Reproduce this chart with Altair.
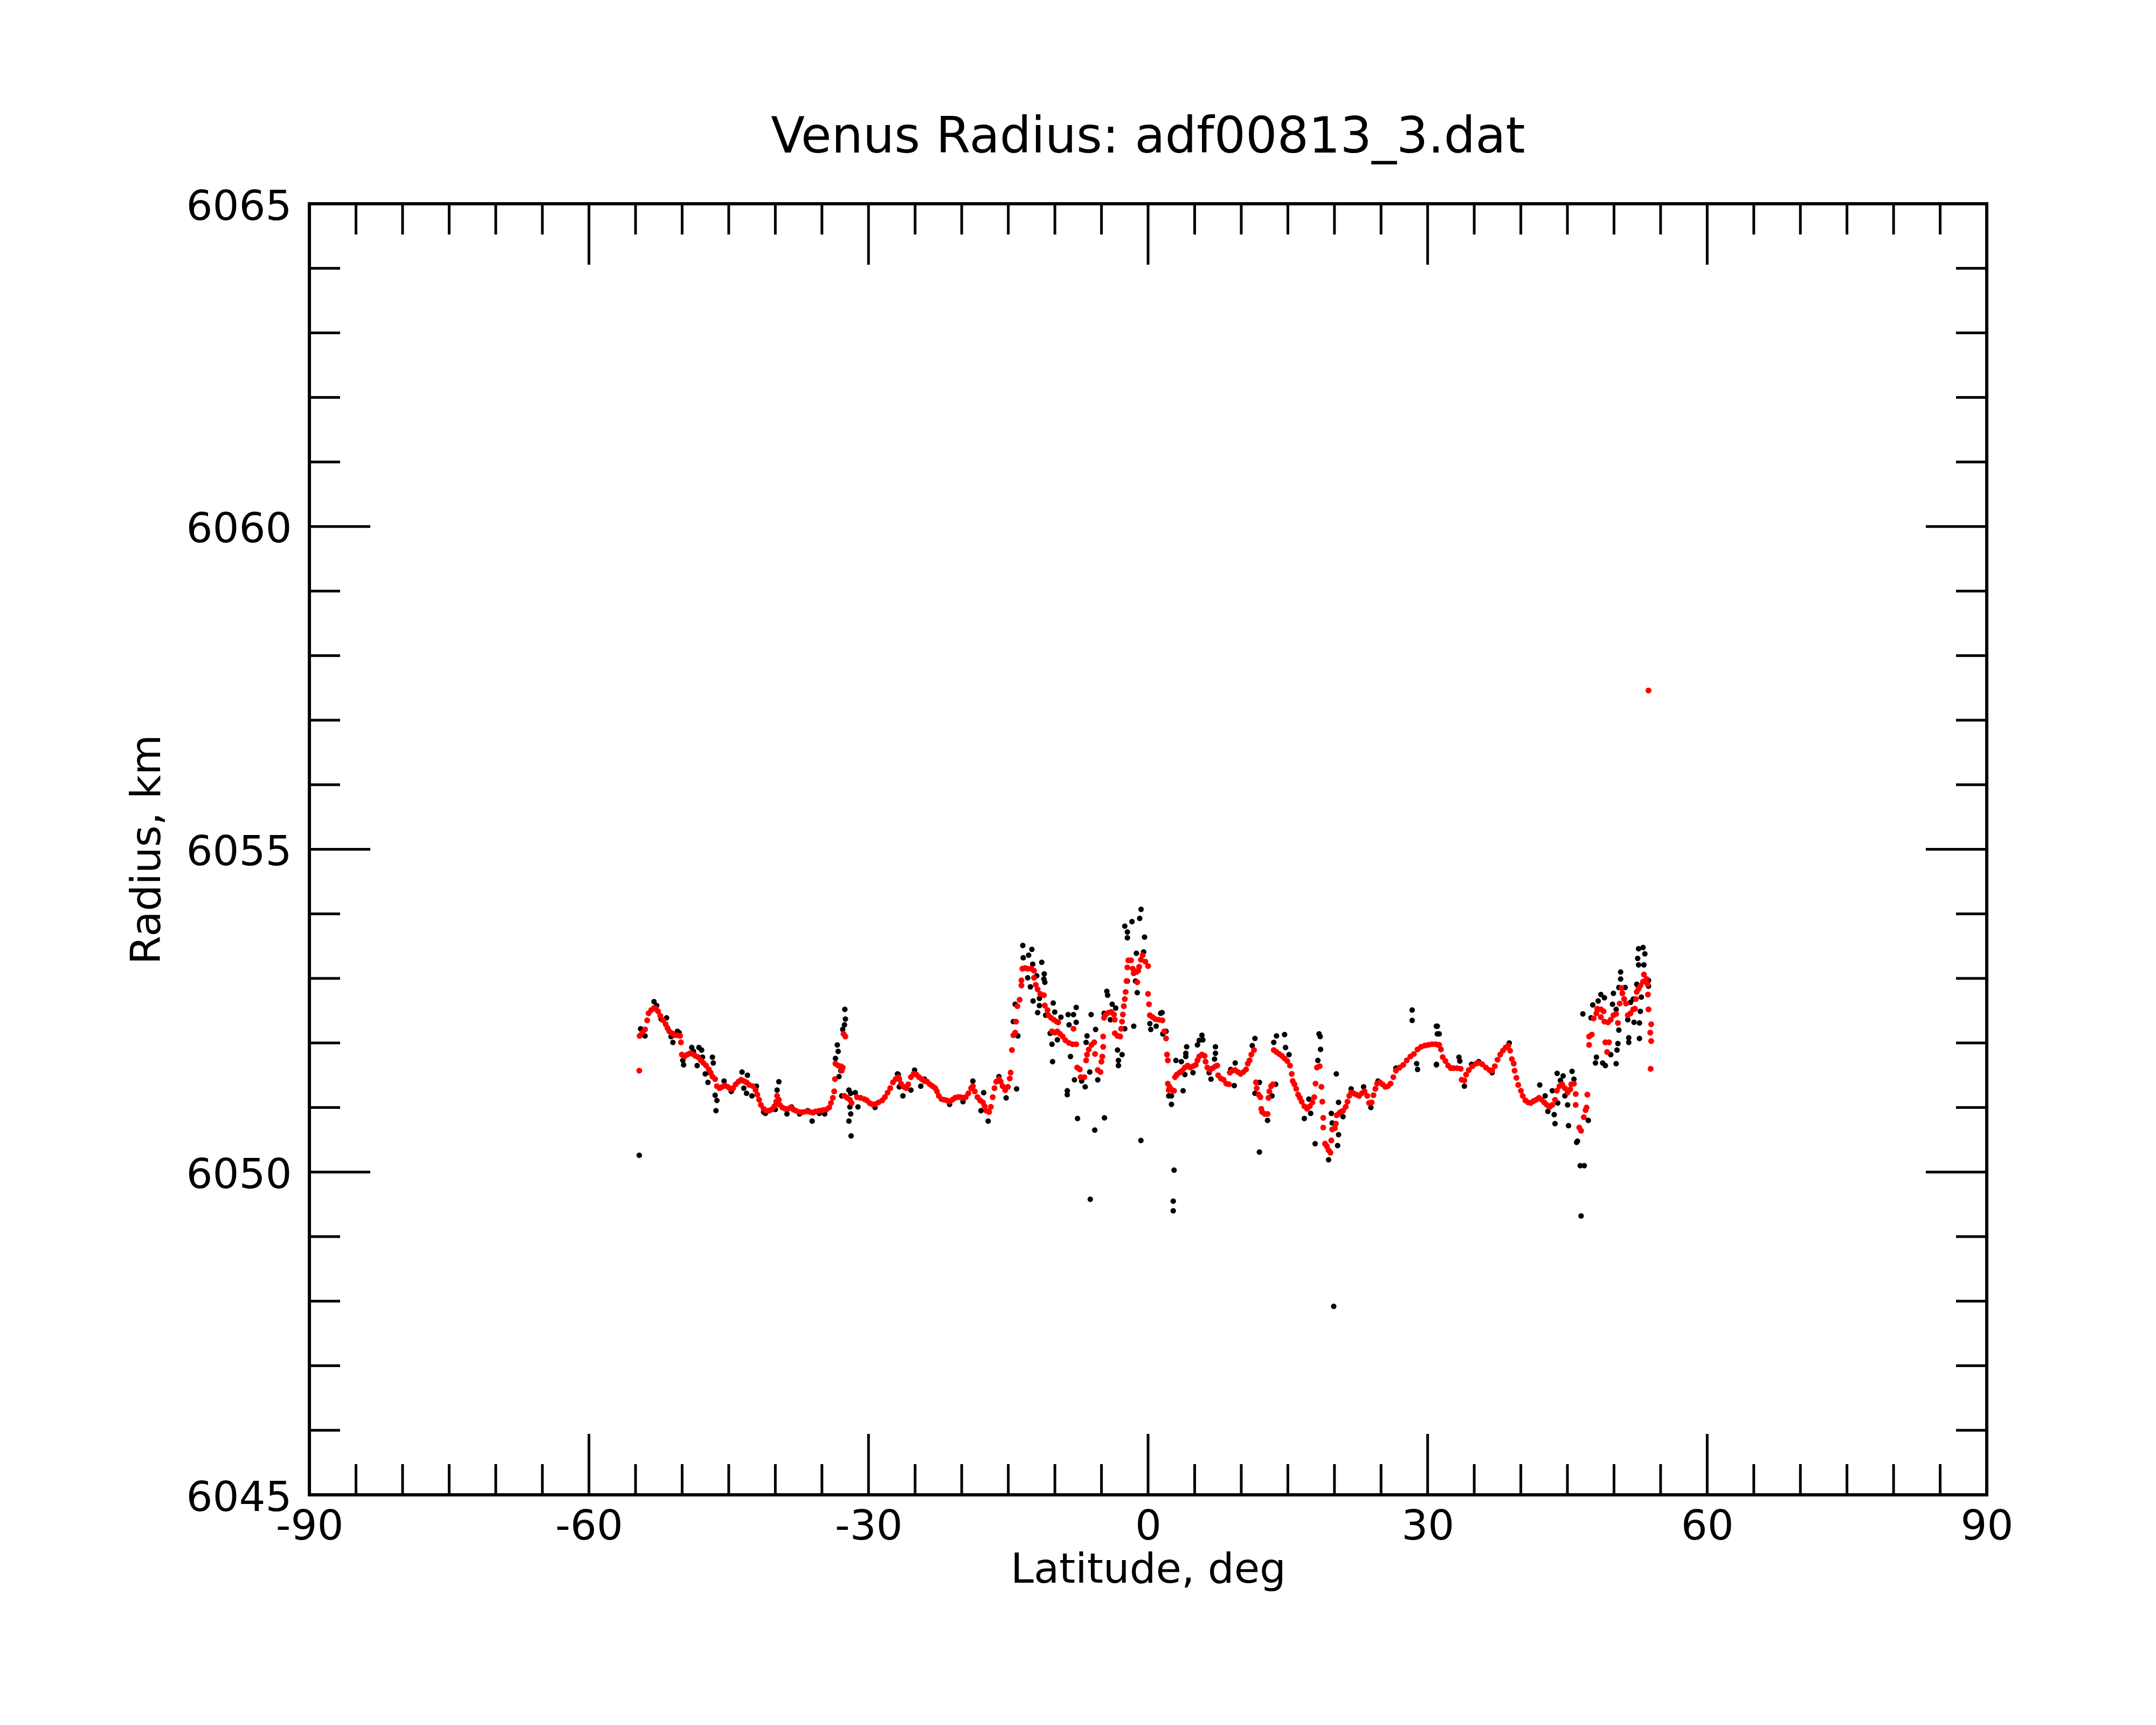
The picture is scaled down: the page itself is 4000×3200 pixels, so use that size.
import altair as alt
import pandas as pd

# ---------------- data (latitude deg, radius km) ----------------
red_south = [
    (-54.60, 6051.57), (-54.56, 6052.11), (-54.27, 6052.16), (-53.98, 6052.21), (-53.75, 6052.35),
    (-53.60, 6052.46), (-53.31, 6052.51), (-53.02, 6052.54), (-52.82, 6052.53), (-52.59, 6052.49),
    (-52.34, 6052.42), (-52.05, 6052.35), (-51.76, 6052.29), (-51.57, 6052.23), (-51.38, 6052.18),
    (-51.09, 6052.15), (-50.80, 6052.12), (-50.51, 6052.12), (-50.22, 6052.11), (-50.13, 6052.01),
    (-50.03, 6051.82), (-49.74, 6051.79), (-49.45, 6051.82), (-49.16, 6051.84), (-48.87, 6051.83),
    (-48.58, 6051.80), (-48.29, 6051.78), (-48.00, 6051.73), (-47.72, 6051.69), (-47.43, 6051.65),
    (-47.14, 6051.59), (-46.94, 6051.54), (-46.75, 6051.48), (-46.46, 6051.44), (-46.27, 6051.33),
    (-45.98, 6051.30), (-45.69, 6051.32), (-45.40, 6051.34), (-45.11, 6051.32), (-44.82, 6051.29),
    (-44.53, 6051.30), (-44.25, 6051.36), (-43.96, 6051.40), (-43.67, 6051.43), (-43.38, 6051.41),
    (-43.09, 6051.39), (-42.80, 6051.35), (-42.41, 6051.33), (-42.12, 6051.27), (-41.93, 6051.20),
    (-41.74, 6051.12), (-41.55, 6051.04), (-41.26, 6050.98), (-40.97, 6050.95), (-40.68, 6050.95),
    (-40.39, 6050.97), (-40.10, 6051.02), (-39.91, 6051.09), (-39.81, 6051.18), (-39.62, 6051.12),
    (-39.52, 6051.04), (-39.23, 6051.00), (-38.94, 6050.98), (-38.65, 6050.98), (-38.37, 6051.00),
    (-38.08, 6050.97), (-37.79, 6050.95), (-37.40, 6050.93), (-37.02, 6050.93), (-36.63, 6050.94),
    (-36.24, 6050.93), (-35.96, 6050.92), (-35.67, 6050.94), (-35.28, 6050.95), (-34.90, 6050.96),
    (-34.51, 6050.97), (-34.22, 6051.00), (-34.03, 6051.07), (-33.83, 6051.15), (-33.68, 6051.25),
    (-33.60, 6051.44), (-33.55, 6051.68), (-33.26, 6051.65), (-32.97, 6051.64), (-32.77, 6051.62),
    (-32.87, 6051.57), (-32.68, 6052.14), (-32.48, 6052.10), (-32.58, 6051.18), (-32.29, 6051.15),
    (-32.00, 6051.12), (-31.81, 6051.07), (-31.23, 6051.16), (-30.85, 6051.15), (-30.46, 6051.13),
    (-30.17, 6051.11), (-29.88, 6051.07), (-29.59, 6051.05), (-29.30, 6051.05), (-28.92, 6051.08),
    (-28.53, 6051.11), (-28.24, 6051.16), (-27.95, 6051.23), (-27.67, 6051.30), (-27.38, 6051.39),
    (-27.09, 6051.44), (-26.80, 6051.47),
]
red_center = [
    (-26.70, 6051.44), (-26.51, 6051.37), (-26.22, 6051.32), (-25.93, 6051.30), (-25.74, 6051.36),
    (-25.45, 6051.47), (-25.16, 6051.52), (-24.87, 6051.51), (-24.58, 6051.47), (-24.29, 6051.44),
    (-24.00, 6051.41), (-23.71, 6051.40), (-23.42, 6051.36), (-23.13, 6051.33), (-22.84, 6051.30),
    (-22.65, 6051.25), (-22.46, 6051.18), (-22.17, 6051.13), (-21.88, 6051.12), (-21.59, 6051.11),
    (-21.30, 6051.09), (-21.01, 6051.12), (-20.72, 6051.15), (-20.43, 6051.16), (-20.15, 6051.16),
    (-19.86, 6051.15), (-19.57, 6051.16), (-19.28, 6051.22), (-18.99, 6051.30), (-18.80, 6051.33),
    (-18.60, 6051.25), (-18.31, 6051.16), (-18.02, 6051.11), (-17.73, 6051.08), (-17.54, 6051.02),
    (-17.35, 6050.95), (-17.06, 6050.93), (-16.87, 6051.01), (-16.67, 6051.16), (-16.48, 6051.30),
    (-16.29, 6051.40), (-16.00, 6051.44), (-15.81, 6051.40), (-15.61, 6051.33), (-15.33, 6051.27),
    (-15.04, 6051.32), (-14.84, 6051.45), (-14.75, 6051.54), (-14.61, 6051.89), (-14.46, 6052.12),
    (-14.26, 6052.16), (-14.17, 6052.33), (-14.03, 6052.57), (-13.78, 6052.67), (-13.59, 6052.89),
    (-13.59, 6052.97), (-13.49, 6053.15), (-13.20, 6053.16), (-12.92, 6053.15), (-12.53, 6053.15),
    (-12.24, 6053.12), (-12.24, 6053.01), (-12.05, 6052.90), (-11.85, 6052.83), (-11.57, 6052.76),
    (-11.18, 6052.74), (-11.08, 6052.58), (-10.79, 6052.51), (-10.70, 6052.43), (-10.41, 6052.39),
    (-10.12, 6052.36), (-9.83, 6052.33), (-9.64, 6052.32), (-10.31, 6052.18), (-10.02, 6052.16),
    (-9.73, 6052.18), (-9.45, 6052.14), (-9.16, 6052.10), (-8.87, 6052.04), (-8.48, 6052.00),
    (-8.10, 6051.98), (-7.71, 6051.98), (-8.00, 6052.22), (-7.61, 6051.62), (-7.32, 6051.59),
    (-7.23, 6051.47), (-6.84, 6051.47), (-6.65, 6051.73), (-6.55, 6051.82), (-6.36, 6051.90),
    (-6.07, 6051.97), (-5.78, 6052.01), (-5.69, 6051.83), (-5.40, 6051.58), (-5.11, 6051.55),
    (-5.01, 6051.71), (-4.91, 6051.79), (-4.82, 6051.94), (-4.82, 6052.10), (-4.72, 6052.39),
    (-4.53, 6052.44), (-4.24, 6052.47), (-3.95, 6052.48), (-3.66, 6052.44), (-3.57, 6052.36),
    (-3.57, 6052.15), (-3.28, 6052.11), (-2.99, 6052.10), (-2.89, 6052.22), (-2.79, 6052.33),
    (-2.70, 6052.44), (-2.60, 6052.57), (-2.50, 6052.68), (-2.41, 6052.79), (-2.31, 6052.96),
    (-2.22, 6053.17), (-2.12, 6053.28), (-1.83, 6053.28), (-1.64, 6053.15), (-1.54, 6053.08),
    (-1.25, 6053.10), (-1.06, 6053.12), (-1.16, 6052.94), (-0.96, 6053.18), (-0.77, 6053.29),
    (-0.58, 6053.36), (-0.29, 6053.26), (0.00, 6053.19), (0.00, 6052.76), (0.10, 6052.60),
    (0.19, 6052.43), (0.48, 6052.40), (0.77, 6052.37), (1.16, 6052.36), (1.54, 6052.35),
    (1.74, 6052.18), (1.93, 6052.07), (2.03, 6051.82), (2.12, 6051.73), (2.12, 6051.37),
    (2.22, 6051.27),
]
red_north = [
    (2.31, 6051.32), (2.60, 6051.27), (2.79, 6051.26), (2.89, 6051.47), (3.08, 6051.51),
    (3.37, 6051.54), (3.66, 6051.57), (3.95, 6051.62), (4.24, 6051.65), (4.53, 6051.62),
    (4.82, 6051.64), (5.11, 6051.66), (5.30, 6051.73), (5.49, 6051.79), (5.78, 6051.82),
    (6.07, 6051.80), (6.17, 6051.71), (6.36, 6051.62), (6.65, 6051.58), (6.94, 6051.61),
    (7.23, 6051.64), (7.42, 6051.65), (7.52, 6051.50), (7.81, 6051.45), (8.10, 6051.43),
    (8.39, 6051.37), (8.68, 6051.36), (8.77, 6051.54), (9.06, 6051.57), (9.35, 6051.58),
    (9.64, 6051.55), (9.93, 6051.52), (10.22, 6051.55), (10.51, 6051.59), (10.70, 6051.68),
    (10.89, 6051.73), (11.08, 6051.82), (11.37, 6051.89), (11.57, 6051.39), (11.66, 6051.30),
    (11.86, 6051.20), (12.05, 6051.16), (12.15, 6050.98), (12.24, 6050.93), (12.53, 6050.90),
    (12.82, 6050.90), (12.92, 6051.15), (13.01, 6051.25), (13.21, 6051.33), (13.40, 6051.36),
    (13.49, 6051.89), (13.78, 6051.86), (14.07, 6051.83), (14.36, 6051.80), (14.65, 6051.76),
    (14.94, 6051.72), (15.23, 6051.65), (15.42, 6051.52), (15.52, 6051.41), (15.71, 6051.36),
    (15.90, 6051.29), (16.10, 6051.20), (16.29, 6051.15), (16.48, 6051.09), (16.77, 6051.02),
    (17.06, 6050.98), (17.35, 6051.02), (17.64, 6051.08), (17.83, 6051.16), (17.97, 6051.37),
    (18.12, 6051.62), (18.41, 6051.64), (18.60, 6051.32), (18.70, 6051.09), (18.80, 6050.84),
    (18.80, 6050.69), (18.99, 6050.44), (19.18, 6050.40), (19.37, 6050.34), (19.57, 6050.30),
    (19.66, 6050.49), (19.76, 6050.66), (20.05, 6050.68), (20.15, 6050.75), (20.24, 6050.88),
    (20.44, 6050.90), (20.63, 6050.93), (20.92, 6050.95), (21.21, 6051.01), (21.40, 6051.09),
    (21.59, 6051.18), (21.79, 6051.23), (22.07, 6051.22), (22.36, 6051.20), (22.65, 6051.18),
    (22.94, 6051.22), (23.23, 6051.25), (23.52, 6051.18), (23.71, 6051.07), (24.00, 6051.08),
    (24.19, 6051.19), (24.39, 6051.29), (24.58, 6051.37), (24.87, 6051.39), (25.16, 6051.36),
    (25.45, 6051.32), (25.74, 6051.33), (26.03, 6051.37), (26.32, 6051.47), (26.60, 6051.57),
    (26.99, 6051.62), (27.38, 6051.66), (27.76, 6051.73), (28.15, 6051.79), (28.53, 6051.83),
    (28.92, 6051.90), (29.30, 6051.94), (29.69, 6051.96), (30.07, 6051.97), (30.46, 6051.98),
    (30.85, 6051.98), (31.13, 6051.97),
]
red_far_north = [
    (31.24, 6051.97), (31.43, 6051.90), (31.62, 6051.78), (31.91, 6051.72), (32.20, 6051.65),
    (32.49, 6051.61), (32.78, 6051.61), (33.16, 6051.61), (33.55, 6051.60), (33.65, 6051.43),
    (33.94, 6051.42), (34.13, 6051.51), (34.42, 6051.58), (34.80, 6051.64), (35.19, 6051.68),
    (35.48, 6051.69), (35.86, 6051.67), (36.25, 6051.62), (36.63, 6051.58), (36.92, 6051.57),
    (37.21, 6051.64), (37.50, 6051.74), (37.79, 6051.82), (38.08, 6051.88), (38.37, 6051.93),
    (38.66, 6051.96), (38.85, 6051.88), (39.04, 6051.75), (39.24, 6051.68), (39.33, 6051.57),
    (39.53, 6051.46), (39.72, 6051.35), (40.01, 6051.26), (40.20, 6051.18), (40.49, 6051.11),
    (40.78, 6051.08), (41.07, 6051.07), (41.36, 6051.10), (41.65, 6051.12), (41.94, 6051.15),
    (42.23, 6051.12), (42.51, 6051.08), (42.80, 6051.04), (43.09, 6051.01), (43.38, 6051.04),
    (43.67, 6051.12), (43.87, 6051.26), (44.15, 6051.33), (44.44, 6051.36), (44.73, 6051.30),
    (45.02, 6051.23), (45.31, 6051.28), (45.41, 6051.36), (45.70, 6051.37), (45.89, 6051.21),
    (45.89, 6051.04), (47.14, 6051.20), (47.05, 6051.00), (46.95, 6050.96), (46.76, 6050.85),
    (46.27, 6050.69), (46.47, 6050.64), (47.33, 6052.10), (47.62, 6052.13), (47.33, 6051.97),
    (47.82, 6052.38), (48.11, 6052.46), (48.20, 6052.53), (48.59, 6052.52), (48.88, 6052.49),
    (48.59, 6052.40), (48.97, 6052.33), (49.36, 6052.32), (49.65, 6052.36), (49.94, 6052.43),
    (50.23, 6052.45), (50.42, 6052.31), (50.61, 6052.61), (50.80, 6052.85), (50.90, 6052.77),
    (51.09, 6052.68), (51.29, 6052.61), (51.48, 6052.43), (51.77, 6052.46), (52.06, 6052.52),
    (52.25, 6052.53), (52.35, 6052.68), (52.44, 6052.79), (52.64, 6052.84), (52.83, 6052.89),
    (53.12, 6052.95), (53.21, 6053.06), (53.50, 6052.99), (53.60, 6052.91), (53.64, 6052.75),
    (53.70, 6052.52), (53.99, 6052.29), (53.89, 6052.16), (53.99, 6052.03), (53.93, 6051.60),
    (49.07, 6052.01), (49.46, 6052.01), (49.26, 6051.86), (53.70, 6057.46),
]

black_south = [
    (-54.60, 6050.26), (-54.46, 6052.22), (-53.98, 6052.11), (-53.02, 6052.64), (-52.73, 6052.58),
    (-52.25, 6052.37), (-51.67, 6052.39), (-51.19, 6052.10), (-50.99, 6052.01), (-50.51, 6052.18),
    (-50.32, 6052.16), (-49.93, 6051.73), (-49.84, 6051.66), (-48.97, 6051.93), (-48.78, 6051.87),
    (-48.39, 6051.65), (-48.20, 6051.93), (-47.91, 6051.89), (-47.81, 6051.78), (-47.52, 6051.52),
    (-47.23, 6051.39), (-47.04, 6051.54), (-46.75, 6051.78), (-46.66, 6051.69), (-46.46, 6051.19),
    (-46.27, 6051.11), (-46.37, 6050.95), (-45.50, 6051.41), (-43.57, 6051.55), (-42.99, 6051.50),
    (-43.38, 6051.30), (-43.09, 6051.22), (-42.51, 6051.18), (-42.03, 6051.33), (-41.06, 6050.91),
    (-40.00, 6050.97), (-39.81, 6051.27), (-39.62, 6051.40), (-38.75, 6050.90), (-38.27, 6051.01),
    (-36.53, 6050.95), (-36.05, 6050.79), (-34.70, 6050.90), (-33.55, 6051.76), (-33.35, 6051.97),
    (-33.26, 6051.87), (-33.16, 6051.48), (-32.97, 6051.57), (-32.87, 6051.18), (-32.77, 6052.21),
    (-32.58, 6052.28), (-32.48, 6052.37), (-32.54, 6052.52), (-32.10, 6051.27), (-31.91, 6051.22),
    (-32.00, 6051.01), (-31.91, 6050.90), (-32.10, 6050.79), (-31.87, 6050.56), (-31.13, 6051.01),
    (-31.42, 6051.23), (-29.30, 6051.00), (-26.89, 6051.52), (-26.70, 6051.32), (-41.26, 6050.93),
    (-37.40, 6050.90), (-35.28, 6050.91), (-44.73, 6051.25),
]
black_center = [
    (-26.80, 6051.51), (-26.31, 6051.18), (-25.45, 6051.27), (-25.06, 6051.58), (-24.39, 6051.33),
    (-24.00, 6051.44), (-21.30, 6051.05), (-19.86, 6051.09), (-18.80, 6051.41), (-17.64, 6051.23),
    (-17.93, 6050.95), (-17.16, 6050.79), (-16.00, 6051.48), (-15.23, 6051.15), (-14.11, 6051.29),
    (-14.26, 6052.60), (-14.46, 6052.33), (-13.97, 6052.11), (-13.44, 6053.51), (-12.47, 6053.45),
    (-12.82, 6053.36), (-13.40, 6053.32), (-12.38, 6053.22), (-11.41, 6053.25), (-12.92, 6053.01),
    (-11.95, 6053.04), (-11.14, 6053.07), (-11.18, 6052.99), (-11.08, 6052.94), (-12.63, 6052.87),
    (-12.34, 6052.65), (-11.66, 6052.69), (-11.66, 6052.58), (-11.85, 6052.47), (-10.18, 6052.62),
    (-10.99, 6052.43), (-10.02, 6052.48), (-9.35, 6052.40), (-10.51, 6052.15), (-10.31, 6051.98),
    (-9.73, 6052.05), (-8.33, 6051.79), (-8.58, 6052.44), (-8.00, 6052.44), (-7.71, 6052.55),
    (-8.48, 6052.28), (-7.71, 6052.32), (-6.11, 6052.44), (-5.63, 6052.21), (-6.55, 6052.11),
    (-6.65, 6052.01), (-4.43, 6052.80), (-4.34, 6052.74), (-3.85, 6052.60), (-3.47, 6052.54),
    (-4.05, 6052.36), (-4.72, 6052.46), (-2.50, 6052.22), (-1.54, 6052.26), (-1.16, 6052.78),
    (-2.50, 6053.81), (-1.73, 6053.88), (-2.22, 6053.72), (-2.22, 6053.63), (-0.38, 6053.64),
    (-1.25, 6053.39), (-0.48, 6053.41), (0.19, 6052.30), (0.29, 6052.21), (0.87, 6052.26),
    (1.35, 6052.46), (-2.22, 6052.96), (-1.35, 6052.96), (-3.28, 6051.89), (-2.79, 6051.82),
    (-3.18, 6051.73), (-3.18, 6051.65), (-6.75, 6051.32), (-6.26, 6051.55), (-5.40, 6051.43),
    (-7.90, 6051.43), (-7.13, 6051.41), (-8.67, 6051.26), (-8.67, 6051.20), (-7.57, 6050.83),
    (-4.68, 6050.84), (-5.72, 6050.65), (-0.77, 6050.49), (-10.25, 6051.71), (2.22, 6051.18),
    (-0.75, 6054.07), (-0.90, 6053.93), (-6.20, 6049.58),
]
black_north = [
    (1.50, 6052.47), (1.93, 6052.18), (1.58, 6052.14), (2.79, 6050.03), (2.51, 6051.05),
    (2.51, 6051.18), (2.99, 6051.73), (3.76, 6051.26), (3.95, 6051.51), (4.05, 6051.84),
    (4.14, 6051.94), (4.05, 6051.79), (3.57, 6051.71), (4.82, 6051.54), (5.30, 6051.97),
    (5.49, 6052.04), (5.78, 6052.12), (5.88, 6052.05), (6.75, 6051.44), (6.55, 6051.54),
    (7.23, 6051.94), (7.23, 6051.84), (7.13, 6051.75), (9.25, 6051.34), (9.35, 6051.69),
    (8.87, 6051.59), (11.47, 6052.07), (11.18, 6051.96), (11.95, 6050.31), (11.95, 6051.39),
    (11.47, 6051.22), (12.82, 6050.80), (13.30, 6051.18), (13.69, 6051.36), (13.78, 6052.11),
    (14.65, 6052.13), (13.49, 6052.01), (14.75, 6051.93), (15.13, 6051.82), (16.77, 6050.83),
    (17.25, 6051.13), (17.45, 6050.91), (18.35, 6052.14), (18.47, 6052.10), (18.51, 6051.90),
    (18.22, 6051.73), (17.93, 6050.44), (20.20, 6051.52), (20.44, 6051.08), (19.66, 6050.91),
    (19.76, 6050.76), (20.44, 6050.58), (20.34, 6050.41), (19.37, 6050.19), (20.92, 6050.86),
    (23.13, 6051.32), (23.91, 6051.00), (21.79, 6051.29), (24.68, 6051.41), (28.34, 6052.51),
    (28.34, 6052.35), (28.82, 6051.68), (28.92, 6051.59), (30.94, 6052.26), (31.04, 6052.14),
    (30.94, 6051.66), (26.60, 6051.61), (2.70, 6049.55), (2.70, 6049.40), (19.92, 6047.92),
]
black_far_north = [
    (31.04, 6052.26), (31.24, 6052.14), (30.95, 6051.67), (33.36, 6051.78), (33.45, 6051.72),
    (33.94, 6051.33), (34.71, 6051.67), (35.48, 6051.71), (36.92, 6051.54), (38.76, 6052.00),
    (42.03, 6051.35), (42.61, 6051.18), (42.90, 6050.94), (43.38, 6051.26), (43.58, 6050.89),
    (43.67, 6050.75), (43.90, 6051.53), (44.54, 6051.49), (44.25, 6051.42), (45.50, 6051.56),
    (45.70, 6051.44), (45.12, 6050.72), (45.02, 6051.04), (44.73, 6051.18), (43.96, 6051.07),
    (46.08, 6050.48), (45.99, 6050.46), (46.37, 6050.10), (46.81, 6050.10), (47.24, 6050.80),
    (46.66, 6052.45), (47.72, 6052.59), (47.53, 6052.39), (48.11, 6051.78), (48.01, 6051.69),
    (48.78, 6051.69), (49.07, 6051.65), (48.59, 6052.75), (48.97, 6052.70), (48.30, 6052.65),
    (49.94, 6052.77), (49.84, 6052.60), (50.23, 6052.52), (50.71, 6053.10), (50.71, 6052.99),
    (50.52, 6052.86), (51.19, 6052.86), (50.52, 6052.20), (50.42, 6051.99), (50.32, 6051.89),
    (50.23, 6051.68), (49.65, 6051.82), (51.58, 6052.08), (51.58, 6052.01), (51.77, 6052.63),
    (52.15, 6052.32), (52.73, 6052.31), (52.83, 6052.49), (52.73, 6052.07), (52.93, 6052.71),
    (52.06, 6052.68), (52.64, 6053.46), (53.12, 6053.48), (53.31, 6053.38), (52.54, 6053.31),
    (52.64, 6053.21), (53.21, 6053.21), (53.70, 6052.97), (53.70, 6052.88), (52.44, 6052.91),
    (51.48, 6052.36), (46.47, 6049.32),
]

x_label_values = [-90, -60, -30, 0, 30, 60, 90]
y_label_values = [6045, 6050, 6055, 6060, 6065]
x_major_ticks = [-60, -30, 0, 30, 60]
x_minor_ticks = [-85, -80, -75, -70, -65, -55, -50, -45, -40, -35, -25, -20, -15, -10, -5,
                 5, 10, 15, 20, 25, 35, 40, 45, 50, 55, 65, 70, 75, 80, 85]
y_major_ticks = [6050, 6055, 6060]
y_minor_ticks = [6046, 6047, 6048, 6049, 6051, 6052, 6053, 6054, 6056, 6057, 6058, 6059,
                 6061, 6062, 6063, 6064]

# ---------------- chart ----------------
W, H = 3112, 2395
FONT = "DejaVu Sans"
FS = 77
MAJ, MIN = 113, 57

black_df = pd.DataFrame(black_south + black_center + black_north + black_far_north, columns=["lat", "r"])
red_df = pd.DataFrame(red_south + red_center + red_north + red_far_north, columns=["lat", "r"])

xs = alt.Scale(domain=[-90, 90], nice=False, zero=False)
ys = alt.Scale(domain=[6045, 6065], nice=False, zero=False)

x_axis = alt.Axis(
    values=x_label_values, ticks=False, tickSize=0, domain=False, grid=False,
    labelExpr="'' + datum.value", labelLimit=1000,
    labelFont=FONT, labelFontSize=FS, labelColor="black", labelPadding=82,
    labelBaseline="alphabetic", labelAlign="center", labelFlush=False, labelOverlap=False,
    title="Latitude, deg", titleFont=FONT, titleFontSize=FS, titleFontWeight="normal",
    titleColor="black", titleX=W / 2, titleY=162, titleBaseline="alphabetic", titleAlign="center",
)
y_axis = alt.Axis(
    values=y_label_values, ticks=False, tickSize=0, domain=False, grid=False,
    labelExpr="'' + datum.value", labelLimit=1000,
    labelFont=FONT, labelFontSize=FS, labelColor="black", labelPadding=33,
    labelBaseline="alphabetic", labelOffset=29, labelAlign="right", labelFlush=False,
    labelOverlap=False,
    title="Radius, km", titleFont=FONT, titleFontSize=FS, titleFontWeight="normal",
    titleColor="black", titleX=-278, titleY=H / 2, titleAngle=270,
    titleBaseline="alphabetic", titleAlign="center",
)

X = alt.X("lat:Q", scale=xs, axis=x_axis)
Y = alt.Y("r:Q", scale=ys, axis=y_axis)


def xticks(vals, y0, y1):
    return alt.Chart(pd.DataFrame({"lat": vals})).mark_rule(color="black", strokeWidth=5).encode(
        x=X, y=alt.value(y0), y2=alt.value(y1))


def yticks(vals, x0, x1):
    return alt.Chart(pd.DataFrame({"r": vals})).mark_rule(color="black", strokeWidth=5).encode(
        y=Y, x=alt.value(x0), x2=alt.value(x1))


tick_layers = [
    xticks(x_major_ticks, H, H - MAJ), xticks(x_major_ticks, 0, MAJ),
    xticks(x_minor_ticks, H, H - MIN), xticks(x_minor_ticks, 0, MIN),
    yticks(y_major_ticks, 0, MAJ), yticks(y_major_ticks, W, W - MAJ),
    yticks(y_minor_ticks, 0, MIN), yticks(y_minor_ticks, W, W - MIN),
]

black_pts = alt.Chart(black_df).mark_circle(color="black", size=105, opacity=1).encode(x=X, y=Y)
red_pts = alt.Chart(red_df).mark_circle(color="#ff0000", size=120, opacity=1).encode(x=X, y=Y)

chart = alt.layer(*tick_layers, black_pts, red_pts).properties(
    width=W, height=H,
    title=alt.TitleParams(
        "Venus Radius: adf00813_3.dat", font=FONT, fontSize=92, fontWeight="normal",
        color="black", anchor="middle", frame="group", baseline="alphabetic", offset=95, dy=125,
    ),
    background="white",
    autosize=alt.AutoSizeParams(type="none"),
    padding={"left": 566, "top": 370, "right": 306, "bottom": 419},
).configure_view(stroke="black", strokeWidth=6, fill="white")

chart.save("out.html", embed_options={"renderer": "svg", "actions": False})
